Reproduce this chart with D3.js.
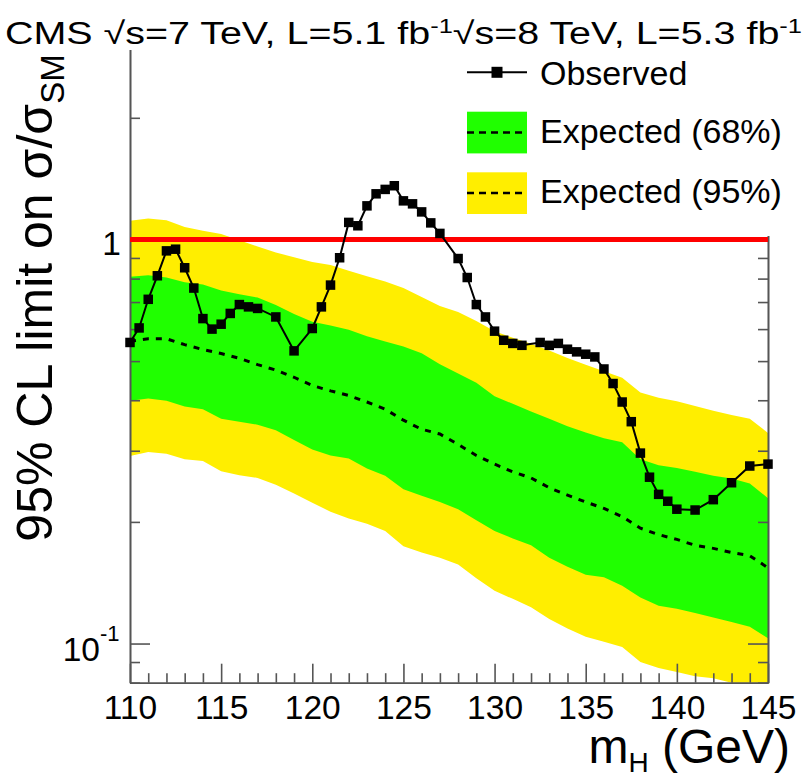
<!DOCTYPE html>
<html><head><meta charset="utf-8">
<script src="https://cdn.jsdelivr.net/npm/d3@7"></script>
<style>body{margin:0;background:#fff}svg{display:block}</style>
</head><body><svg id="c" width="806" height="778"></svg>
<script>
// ---- data ----
const expMass   = [110,111,112,113,114,115,116,117,118,119,120,121,122,123,124,125,126,127,128,129,130,131,132,133,134,135,136,137,138,139,140,141,142,143,144,145];
const exp95Up   = [1.112,1.126,1.116,1.073,1.051,1.031,0.996,0.960,0.928,0.904,0.879,0.864,0.837,0.811,0.787,0.758,0.720,0.684,0.661,0.628,0.593,0.571,0.552,0.531,0.509,0.490,0.472,0.455,0.418,0.406,0.398,0.387,0.377,0.368,0.360,0.332];
const exp68Up   = [0.808,0.815,0.805,0.784,0.774,0.748,0.732,0.718,0.688,0.654,0.626,0.612,0.598,0.576,0.559,0.543,0.523,0.491,0.466,0.442,0.409,0.392,0.375,0.360,0.345,0.333,0.322,0.315,0.286,0.276,0.272,0.266,0.260,0.256,0.249,0.229];
const expMedian = [0.560,0.568,0.568,0.549,0.534,0.522,0.508,0.490,0.475,0.456,0.435,0.422,0.411,0.396,0.380,0.357,0.339,0.330,0.311,0.292,0.278,0.266,0.257,0.243,0.233,0.224,0.216,0.206,0.193,0.186,0.181,0.175,0.172,0.168,0.165,0.154];
const exp68Down = [0.399,0.404,0.399,0.386,0.380,0.360,0.354,0.348,0.337,0.319,0.302,0.292,0.287,0.271,0.260,0.241,0.232,0.224,0.215,0.202,0.190,0.182,0.175,0.163,0.155,0.148,0.146,0.139,0.130,0.124,0.122,0.119,0.116,0.113,0.110,0.103];
const exp95Down = [0.291,0.298,0.295,0.286,0.283,0.267,0.261,0.257,0.247,0.235,0.223,0.212,0.204,0.198,0.190,0.174,0.168,0.163,0.157,0.145,0.135,0.129,0.123,0.115,0.109,0.104,0.101,0.098,0.090,0.087,0.085,0.083,0.082,0.080,0.078,0.077];

const obsMass  = [110,110.5,111,111.5,112,112.5,113,113.5,114,114.5,115,115.5,116,116.5,117,118,119,120,120.5,121,121.5,122,122.5,123,123.5,124,124.5,125,125.5,126,126.5,127,128,128.5,129,129.5,130,130.5,131,131.5,132.5,133,133.5,134,134.5,135,135.5,136,136.5,137,137.5,138,138.5,139,139.5,140,141,142,143,144,145];
const obsLimit = [0.556,0.604,0.711,0.813,0.937,0.946,0.851,0.758,0.637,0.600,0.617,0.656,0.690,0.681,0.675,0.643,0.530,0.602,0.681,0.771,0.901,1.102,1.081,1.211,1.297,1.330,1.358,1.246,1.225,1.170,1.099,1.035,0.897,0.805,0.690,0.643,0.593,0.563,0.553,0.547,0.556,0.547,0.553,0.535,0.527,0.520,0.512,0.478,0.440,0.396,0.354,0.296,0.258,0.234,0.225,0.215,0.214,0.227,0.250,0.275,0.278];

const xMajorTicks = [110,115,120,125,130,135,140,145];
const xMinorTicks = [111,112,113,114,116,117,118,119,121,122,123,124,126,127,128,129,131,132,133,134,136,137,138,139,141,142,143,144];
const yMajorTicks = [0.1,1];
const yMinorTicks = [0.08,0.09,0.2,0.3,0.4,0.5,0.6,0.7,0.8,0.9,2];
const xDomain = [110,145];
const yDomain = [0.08,2.95];
const legendLabels = ["Observed","Expected (68%)","Expected (95%)"];

// ---- layout ----
const L = 130, R = 768, T = 49.6, B = 682.7;
const FONT = "'Liberation Sans', Arial, Helvetica, sans-serif";
const GREEN = "#20ff00", YELLOW = "#ffee00", AXC = "#555";

const svg = d3.select("#c");
const x = d3.scaleLinear().domain(xDomain).range([L, R]);
const y = d3.scaleLog().domain(yDomain).range([B, T]);

svg.append("defs").append("clipPath").attr("id","clip")
  .append("rect").attr("x",L).attr("y",T).attr("width",R-L).attr("height",B-T);

const exp = expMass.map((m,i)=>({m, u95:exp95Up[i], d95:exp95Down[i], u68:exp68Up[i], d68:exp68Down[i], med:expMedian[i]}));
const gBands = svg.append("g").attr("clip-path","url(#clip)");
gBands.append("path").datum(exp).attr("fill",YELLOW)
  .attr("d", d3.area().x(d=>x(d.m)).y0(d=>y(d.d95)).y1(d=>y(d.u95)));
gBands.append("path").datum(exp).attr("fill",GREEN)
  .attr("d", d3.area().x(d=>x(d.m)).y0(d=>y(d.d68)).y1(d=>y(d.u68)));

// ---- axes ----
function styleAxis(g){
  g.select(".domain").attr("stroke",AXC).attr("stroke-width",1.6);
  g.selectAll(".tick line").attr("stroke",AXC).attr("stroke-width",1.6);
}
svg.append("g").attr("transform",`translate(0,${B})`)
  .call(d3.axisBottom(x).tickValues(xMinorTicks).tickSize(-9.5).tickSizeOuter(0).tickFormat(""))
  .call(styleAxis);
const xAx = svg.append("g").attr("transform",`translate(0,${B})`)
  .call(d3.axisBottom(x).tickValues(xMajorTicks).tickSize(-19).tickSizeOuter(0).tickPadding(12.5).tickFormat(d3.format("d")))
  .call(styleAxis);
xAx.selectAll("text").attr("font-family",FONT).attr("font-size",33.5).attr("fill","#000");

[[d3.axisLeft, L],[d3.axisRight, R]].forEach(([ax,pos])=>{
  svg.append("g").attr("transform",`translate(${pos},0)`)
    .call(ax(y).tickValues(yMinorTicks).tickSize(-10).tickSizeOuter(0).tickFormat(""))
    .call(styleAxis);
  svg.append("g").attr("transform",`translate(${pos},0)`)
    .call(ax(y).tickValues(yMajorTicks).tickSize(-20).tickSizeOuter(0).tickFormat(""))
    .call(styleAxis);
});

// y tick labels
svg.append("text").attr("x",121).attr("y",y(1)+16).attr("text-anchor","end")
  .attr("font-family",FONT).attr("font-size",33.5).text("1");
svg.append("text").attr("x",100).attr("y",y(0.1)+17).attr("text-anchor","end")
  .attr("font-family",FONT).attr("font-size",33.5).text("10");
svg.append("text").attr("x",100).attr("y",y(0.1)-3).attr("text-anchor","start")
  .attr("font-family",FONT).attr("font-size",22).text("-1");

// ---- median, SM line, observed ----
const g2 = svg.append("g").attr("clip-path","url(#clip)");
g2.append("path").datum(exp).attr("fill","none").attr("stroke","#000")
  .attr("stroke-width",3).attr("stroke-dasharray","6,7")
  .attr("d", d3.line().x(d=>x(d.m)).y(d=>y(d.med)));

svg.append("line").attr("x1",x(xDomain[0])).attr("x2",x(xDomain[1]))
  .attr("y1",y(1)).attr("y2",y(1)).attr("stroke","#ff0000").attr("stroke-width",5);

const obs = obsMass.map((m,i)=>({m, v:obsLimit[i]}));
svg.append("path").datum(obs).attr("fill","none").attr("stroke","#000").attr("stroke-width",2)
  .attr("d", d3.line().x(d=>x(d.m)).y(d=>y(d.v)));
svg.append("g").selectAll("rect").data(obs).join("rect")
  .attr("x",d=>x(d.m)-4.75).attr("y",d=>y(d.v)-4.75).attr("width",9.5).attr("height",9.5).attr("fill","#000");

// ---- legend ----
svg.append("rect").attr("x",455).attr("y",46).attr("width",351).attr("height",190).attr("fill","#fff");
const lg = svg.append("g");
lg.append("line").attr("x1",467).attr("x2",527).attr("y1",72.3).attr("y2",72.3).attr("stroke","#000").attr("stroke-width",2);
lg.append("rect").attr("x",497-5.5).attr("y",72.3-5.5).attr("width",11).attr("height",11).attr("fill","#000");
[[GREEN,111.7],[YELLOW,172.3]].forEach(([c,yy])=>{
  lg.append("rect").attr("x",467).attr("y",yy).attr("width",60).attr("height",41.7).attr("fill",c);
  lg.append("line").attr("x1",467).attr("x2",527).attr("y1",yy+20.8).attr("y2",yy+20.8)
    .attr("stroke","#000").attr("stroke-width",2.5).attr("stroke-dasharray","7,5");
});
[85,143,203].forEach((yy,i)=>{
  lg.append("text").attr("x",540).attr("y",yy).attr("font-family",FONT).attr("font-size",34).text(legendLabels[i]);
});

// ---- title ----
const t = svg.append("text").attr("x",5).attr("y",44).attr("font-family",FONT).attr("font-size",31)
  .attr("textLength",797).attr("lengthAdjust","spacingAndGlyphs");
t.append("tspan").text("CMS \u221As=7 TeV, L=5.1 fb");
t.append("tspan").attr("baseline-shift","super").attr("font-size",20).text("-1");
t.append("tspan").text("\u221As=8 TeV, L=5.3 fb");
t.append("tspan").attr("baseline-shift","super").attr("font-size",20).text("-1");

// ---- axis titles ----
const xt = svg.append("text").attr("x",790).attr("y",763).attr("text-anchor","end")
  .attr("font-family",FONT).attr("font-size",48);
xt.append("tspan").text("m");
xt.append("tspan").attr("baseline-shift","-9").attr("font-size",28).text("H");
xt.append("tspan").text(" (GeV)");

const yt = svg.append("text").attr("transform","translate(52,298) rotate(-90)").attr("text-anchor","middle")
  .attr("font-family",FONT).attr("font-size",50);
yt.append("tspan").text("95% CL limit on \u03C3/\u03C3");
yt.append("tspan").attr("baseline-shift","-12").attr("font-size",33).text("SM");
</script>
</body></html>
